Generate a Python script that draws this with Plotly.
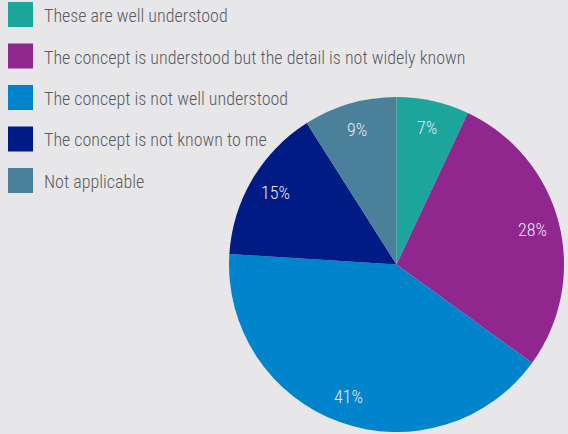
import math
import plotly.graph_objects as go

categories = [
    "These are well understood",
    "The concept is understood but the detail is not widely known",
    "The concept is not well understood",
    "The concept is not known to me",
    "Not applicable",
]
shares = [7, 28, 41, 15, 9]
colors = ["#1ba59b", "#8f278f", "#0084cc", "#001c84", "#4a809a"]

W, H = 568, 434
BG = "#e7e7ea"
FONT = "Roboto Condensed, Liberation Sans Narrow, Lato, sans-serif"

pie_x = [0.4032, 0.9930]
pie_y = [0.0046, 0.7765]

fig = go.Figure()
fig.add_trace(go.Pie(
    labels=categories,
    values=shares,
    sort=False,
    direction="clockwise",
    rotation=0,
    marker=dict(colors=colors, line=dict(width=0)),
    textinfo="none",
    hoverinfo="label+percent",
    domain=dict(x=pie_x, y=pie_y),
    showlegend=False,
))

# pie geometry in pixels, used to place the percentage labels near the rim
cx = (pie_x[0] + pie_x[1]) / 2 * W
cy = (pie_y[0] + pie_y[1]) / 2 * H
radius = min((pie_x[1] - pie_x[0]) * W, (pie_y[1] - pie_y[0]) * H) / 2

annotations = []
total = sum(shares)
acc = 0
for v in shares:
    ang = math.radians((acc + v / 2) / total * 360)
    acc += v
    px = cx + 0.84 * radius * math.sin(ang)
    py = cy + 0.84 * radius * math.cos(ang)
    annotations.append(dict(xref="paper", yref="paper", x=px / W, y=py / H,
                            xanchor="center", yanchor="middle",
                            text=f"{v}%", showarrow=False,
                            font=dict(family=FONT, size=18, weight=300,
                                      color="#ece6f2")))

# legend: coloured squares with category names
shapes = []
row_h = 41.5
for i, (name, c) in enumerate(zip(categories, colors)):
    top = 2 + i * row_h
    shapes.append(dict(type="rect", xref="paper", yref="paper",
                       x0=8 / W, x1=33 / W,
                       y0=1 - (top + 25) / H, y1=1 - top / H,
                       fillcolor=c, line=dict(width=0), layer="above"))
    annotations.append(dict(xref="paper", yref="paper",
                            x=42 / W, y=1 - (top + 13.5) / H,
                            xanchor="left", yanchor="middle",
                            text=name, showarrow=False,
                            font=dict(family=FONT, size=18, weight=300,
                                      color="#5a5a5e")))

fig.update_layout(
    width=W, height=H,
    margin=dict(l=0, r=0, t=0, b=0),
    paper_bgcolor=BG, plot_bgcolor=BG,
    shapes=shapes,
    annotations=annotations,
)

fig.write_html("out.html")
